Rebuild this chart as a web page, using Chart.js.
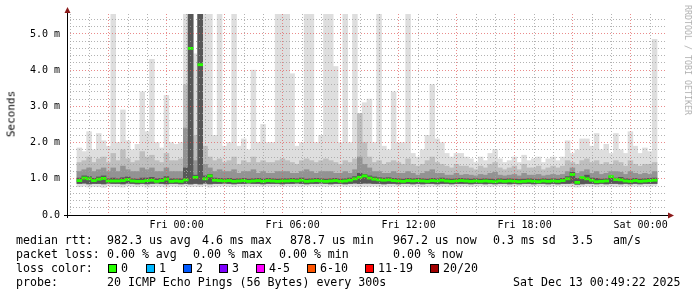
<!DOCTYPE html>
<html>
<head>
<meta charset="utf-8">
<script src="https://cdn.jsdelivr.net/npm/chart.js@4.4.1/dist/chart.umd.min.js"></script>
<style>
body{margin:0;background:#fff;}
#wrap{position:relative;width:697px;height:297px;overflow:hidden;background:#fff;}
#c{position:absolute;left:0;top:0;}
.t{position:absolute;font-family:"DejaVu Sans Mono",monospace;font-size:11.6px;line-height:1;white-space:pre;color:#000;}
.box{position:absolute;width:9px;height:9px;box-sizing:border-box;border:1px solid #000;}
#ylab{position:absolute;left:11px;top:114px;transform:translate(-50%,-50%) rotate(-90deg);font-family:"DejaVu Sans Mono",monospace;font-size:11px;font-weight:normal;color:#000;white-space:pre;}
#wm{position:absolute;left:688px;top:60px;transform:translate(-50%,-50%) rotate(90deg);font-family:"DejaVu Sans Mono",monospace;font-size:8.3px;color:#b0b0b0;white-space:pre;}
</style>
</head>
<body>
<div id="wrap">
<canvas id="c" width="697" height="297"></canvas>
<div id="ylab">Seconds</div>
<div id="wm">RRDTOOL / TOBI OETIKER</div>
<div id="legend"></div>
</div>
<script>
// time axis in hours from Fri 00:00, one bucket = 15 min
const hourStart = -5.15;
const hourEnd = 24.85;
const bucketHours = 0.25;

const tickHours = [0, 6, 12, 18, 24];
const tickNames = ['Fri 00:00', 'Fri 06:00', 'Fri 12:00', 'Fri 18:00', 'Sat 00:00'];
const yTickValues = [0, 1, 2, 3, 4, 5];
const yTickNames = ['0.0', '1.0 m', '2.0 m', '3.0 m', '4.0 m', '5.0 m'];

// rtt in ms
const rttMax = [
 1.85,1.75,2.3,1.8,2.25,2.05,1.9,5.6,2.0,2.9,2.05,1.8,1.95,3.4,2.3,4.3,2.0,1.85,3.3,2.0,
 1.95,2.0,5.6,5.6,4.45,5.6,5.6,5.6,2.2,5.6,1.9,2.0,5.6,1.9,2.1,1.8,4.0,2.0,2.5,2.0,
 2.0,5.6,5.6,5.6,3.9,1.9,2.0,5.6,5.6,2.0,2.2,5.6,5.6,4.1,2.0,5.6,2.0,5.6,2.2,3.1,
 3.2,2.0,5.6,1.9,1.8,3.4,2.0,2.0,5.6,1.7,1.6,1.8,2.2,3.6,2.1,2.0,1.7,1.6,1.7,1.7,
 1.6,1.55,1.45,1.6,1.5,1.7,1.8,1.55,1.45,1.5,1.6,1.45,1.65,1.5,1.55,1.6,1.45,1.55,1.6,1.5,
 1.6,2.05,1.7,1.8,2.1,2.1,1.9,2.25,1.8,1.95,1.7,2.25,1.8,1.7,2.3,1.9,1.7,1.85,1.75,4.85
];
const rttHigh = [
 1.45,1.5,1.6,1.45,1.55,1.6,1.45,1.7,1.5,1.8,1.55,1.45,1.5,1.75,1.6,1.65,1.5,1.45,1.7,1.5,
 1.5,1.55,3.6,5.6,2.2,5.6,1.9,1.6,1.5,1.55,1.45,1.5,1.6,1.4,1.5,1.45,1.6,1.45,1.5,1.45,
 1.45,1.5,1.55,1.5,1.45,1.4,1.5,1.55,1.5,1.45,1.5,1.55,1.5,1.45,1.4,1.5,1.45,1.55,2.8,2.0,
 1.6,1.45,1.5,1.4,1.45,1.5,1.45,1.4,1.55,1.4,1.35,1.4,1.5,1.6,1.45,1.4,1.35,1.3,1.4,1.35,
 1.35,1.3,1.25,1.35,1.3,1.4,1.45,1.3,1.25,1.3,1.35,1.25,1.4,1.3,1.3,1.35,1.25,1.3,1.35,1.3,
 1.35,1.5,1.45,1.4,1.5,1.55,1.45,1.5,1.4,1.45,1.4,1.5,1.45,1.35,1.5,1.4,1.35,1.4,1.4,1.45
];
const rttMid = [
 1.2,1.25,1.3,1.2,1.25,1.3,1.2,1.3,1.2,1.35,1.25,1.2,1.2,1.3,1.25,1.3,1.2,1.2,1.3,1.2,
 1.2,1.2,2.4,5.6,1.5,5.6,1.4,1.3,1.2,1.25,1.2,1.2,1.25,1.15,1.2,1.2,1.25,1.15,1.2,1.15,
 1.15,1.2,1.2,1.2,1.15,1.15,1.2,1.25,1.2,1.15,1.2,1.2,1.2,1.15,1.15,1.2,1.15,1.25,1.6,1.4,
 1.3,1.2,1.2,1.15,1.15,1.2,1.15,1.15,1.2,1.15,1.1,1.15,1.2,1.25,1.15,1.15,1.1,1.1,1.15,1.1,
 1.12,1.1,1.08,1.12,1.1,1.15,1.18,1.1,1.08,1.1,1.12,1.08,1.15,1.1,1.1,1.12,1.08,1.1,1.12,1.1,
 1.12,1.2,1.3,1.15,1.2,1.25,1.15,1.2,1.12,1.15,1.2,1.2,1.18,1.12,1.2,1.15,1.12,1.15,1.12,1.2
];
const rttCore = [
 1.02,1.08,1.06,1.01,1.05,1.08,1.0,1.02,1.0,1.03,1.05,1.0,0.99,1.02,1.02,1.04,1.0,1.01,1.06,1.0,
 1.0,1.0,1.3,5.6,1.1,5.6,1.08,1.12,1.02,1.01,1.0,1.01,0.99,1.0,1.01,0.99,1.0,1.01,0.99,1.01,
 1.0,0.99,1.0,1.0,1.01,1.0,1.02,0.99,1.0,1.01,1.0,0.99,1.0,1.01,0.99,1.0,1.02,1.06,1.15,1.12,
 1.08,1.05,1.03,1.02,1.03,1.01,1.0,0.99,1.01,1.0,1.01,1.0,0.99,1.01,1.0,1.02,1.0,0.99,1.0,1.01,
 1.0,0.99,1.0,0.99,1.0,0.99,0.98,1.0,0.99,1.0,0.99,0.98,0.99,1.0,0.99,0.98,1.0,0.99,1.0,0.99,
 1.01,1.06,1.18,1.01,1.0,1.1,1.02,1.01,0.99,1.0,1.06,1.02,1.04,1.0,0.99,1.01,0.99,1.0,1.01,1.02
];
const rttLow = [
 0.87,0.88,0.86,0.87,0.87,0.86,0.88,0.87,0.87,0.86,0.88,0.87,0.86,0.87,0.86,0.87,0.88,0.87,0.86,0.87,
 0.87,0.86,0.87,0.86,0.87,0.86,0.88,0.86,0.87,0.87,0.88,0.87,0.86,0.87,0.87,0.88,0.87,0.87,0.86,0.87,
 0.87,0.87,0.86,0.87,0.87,0.88,0.87,0.86,0.87,0.87,0.88,0.87,0.86,0.87,0.87,0.86,0.87,0.88,0.87,0.88,
 0.88,0.87,0.87,0.86,0.87,0.87,0.86,0.87,0.87,0.86,0.87,0.86,0.87,0.87,0.86,0.87,0.87,0.86,0.87,0.87,
 0.87,0.86,0.87,0.87,0.86,0.87,0.86,0.87,0.87,0.86,0.87,0.86,0.87,0.87,0.86,0.87,0.87,0.86,0.87,0.86,
 0.87,0.87,0.88,0.85,0.86,0.87,0.87,0.86,0.87,0.86,0.87,0.87,0.86,0.87,0.86,0.87,0.86,0.87,0.87,0.87
];
const rttMin = [
 0.78,0.80,0.77,0.79,0.78,0.76,0.80,0.79,0.78,0.77,0.80,0.79,0.78,0.80,0.77,0.78,0.80,0.79,0.77,0.80,
 0.79,0.78,0.80,0.78,0.79,0.78,0.80,0.77,0.79,0.80,0.80,0.79,0.78,0.80,0.79,0.80,0.79,0.80,0.79,0.80,
 0.79,0.80,0.79,0.80,0.79,0.80,0.79,0.80,0.80,0.79,0.80,0.79,0.80,0.79,0.80,0.79,0.80,0.79,0.78,0.79,
 0.79,0.80,0.79,0.80,0.79,0.80,0.79,0.80,0.79,0.80,0.79,0.78,0.79,0.80,0.79,0.80,0.79,0.80,0.79,0.80,
 0.80,0.79,0.80,0.81,0.80,0.79,0.80,0.81,0.80,0.79,0.80,0.81,0.80,0.79,0.80,0.81,0.80,0.79,0.80,0.81,
 0.80,0.79,0.78,0.77,0.79,0.80,0.79,0.78,0.79,0.80,0.79,0.78,0.79,0.80,0.79,0.80,0.79,0.80,0.79,0.80
];
const median = [
 0.95,1.02,1.0,0.95,0.99,1.01,0.94,0.94,0.94,0.95,0.98,0.94,0.93,0.93,0.95,0.96,0.93,0.95,0.99,0.93,
 0.94,0.93,0.97,4.6,1.04,4.15,1.0,1.08,0.96,0.95,0.94,0.95,0.93,0.94,0.95,0.93,0.94,0.95,0.93,0.95,
 0.94,0.93,0.94,0.94,0.95,0.94,0.96,0.93,0.94,0.95,0.94,0.93,0.94,0.95,0.93,0.94,0.96,1.0,1.04,1.08,
 1.02,0.99,0.97,0.96,0.97,0.95,0.94,0.93,0.95,0.94,0.95,0.94,0.93,0.95,0.94,0.96,0.94,0.93,0.94,0.95,
 0.94,0.93,0.94,0.93,0.94,0.93,0.92,0.94,0.93,0.94,0.93,0.92,0.93,0.94,0.93,0.92,0.94,0.93,0.94,0.93,
 0.95,1.0,1.12,0.9,1.03,1.0,0.96,0.92,0.93,0.94,1.06,0.98,0.97,0.94,0.93,0.95,0.93,0.94,0.95,0.96
];

const lossNames = ['0', '1', '2', '3', '4-5', '6-10', '11-19', '20/20'];
const lossColors = ['#26ff00', '#00b8ff', '#0059ff', '#7e00ff', '#ff00ff', '#ff5500', '#ff0000', '#a10000'];

const legendRows = [
 [[16, 'median rtt:'], [107, '982.3 us avg'], [202, '4.6 ms max'], [290, '878.7 us min'], [393, '967.2 us now'], [493, '0.3 ms sd'], [572, '3.5'], [613, 'am/s']],
 [[16, 'packet loss:'], [107, '0.00 % avg'], [193, '0.00 % max'], [279, '0.00 % min'], [393, '0.00 % now']],
 [[16, 'loss color:']],
 [[16, 'probe:'], [107, '20 ICMP Echo Pings (56 Bytes) every 300s'], [513, 'Sat Dec 13 00:49:22 2025']]
];
const rowTops = [234.7, 249.2, 262.9, 276.9];
const boxLeft = [108, 146, 183, 219, 256, 307, 365, 430];

function band(lo, hi){
    return lo.map(function(v, i){
        return {x: hourStart + bucketHours/2 + i*bucketHours, y: [v, hi[i]]};
    });
}

function medianBand(){
    return median.map(function(v, i){
        return {x: hourStart + bucketHours/2 + i*bucketHours, y: [v - 0.03, v + 0.03]};
    });
}

function buildLegend(){
    let el = document.getElementById('legend');
    let html = '';
    legendRows.forEach(function(row, r){
        row.forEach(function(s){
            html += '<div class="t" style="left:' + s[0] + 'px;top:' + rowTops[r] + 'px">' + s[1] + '</div>';
        });
    });
    lossNames.forEach(function(n, i){
        html += '<div class="box" style="left:' + boxLeft[i] + 'px;top:264px;background:' + lossColors[i] + '"></div>';
        html += '<div class="t" style="left:' + (boxLeft[i] + 13) + 'px;top:' + rowTops[2] + 'px">' + n + '</div>';
    });
    el.innerHTML = html;
}

const arrows = {
    id: 'arrows',
    afterDraw(chart){
        let a = chart.chartArea, ctx = chart.ctx;
        ctx.save();
        ctx.strokeStyle = '#000';
        ctx.lineWidth = 1;
        ctx.beginPath();
        ctx.moveTo(a.left + 0.5, a.bottom + 3);
        ctx.lineTo(a.left + 0.5, a.top - 4);
        ctx.moveTo(a.left - 3, a.bottom + 0.5);
        ctx.lineTo(a.right + 3, a.bottom + 0.5);
        ctx.stroke();
        ctx.fillStyle = '#8b1a1a';
        ctx.beginPath();
        ctx.moveTo(a.left + 0.5, a.top - 7);
        ctx.lineTo(a.left - 2.5, a.top - 1);
        ctx.lineTo(a.left + 3.5, a.top - 1);
        ctx.closePath();
        ctx.fill();
        ctx.beginPath();
        ctx.moveTo(a.right + 7, a.bottom + 0.5);
        ctx.lineTo(a.right + 1, a.bottom - 2.5);
        ctx.lineTo(a.right + 1, a.bottom + 3.5);
        ctx.closePath();
        ctx.fill();
        ctx.restore();
    }
};

function gridColor(major){
    return major ? 'rgba(225,90,90,0.7)' : 'rgba(160,160,160,0.8)';
}

window.onload = function(){

    buildLegend();

    let layer = function(data, color, order){
        return {type: 'bar', data: data, backgroundColor: color, borderWidth: 0,
            barPercentage: 1, categoryPercentage: 1, grouped: false, order: order};
    };

    new Chart(document.getElementById('c'), {
        type: 'bar',
        data: {
            datasets: [
                layer(medianBand(), lossColors[0], 1),
                layer(band(rttLow, rttCore), '#575757', 2),
                layer(band(rttLow, rttMid), '#939393', 3),
                layer(band(rttLow, rttHigh), '#bebebe', 4),
                layer(band(rttMin, rttMax), '#dedede', 5)
            ]
        },
        options: {
            responsive: false,
            animation: false,
            events: [],
            layout: {padding: {left: 0, right: 30, top: 14, bottom: 0}},
            plugins: {legend: {display: false}, tooltip: {enabled: false}},
            scales: {
                x: {
                    type: 'linear',
                    min: hourStart,
                    max: hourEnd,
                    afterFit: function(s){ s.height = 82; },
                    afterBuildTicks: function(s){
                        let t = [];
                        for (let h = Math.ceil(hourStart); h <= Math.floor(hourEnd); h++) t.push({value: h});
                        s.ticks = t;
                    },
                    grid: {
                        z: 1,
                        drawTicks: false,
                        color: function(c){ return gridColor(c.tick && c.tick.value % 3 === 0); }
                    },
                    border: {display: false, dash: [1, 2]},
                    ticks: {
                        autoSkip: false,
                        maxRotation: 0,
                        padding: 4,
                        color: '#000',
                        font: {family: 'DejaVu Sans Mono', size: 10},
                        callback: function(v){
                            let i = tickHours.indexOf(v);
                            return i >= 0 ? tickNames[i] : '';
                        }
                    }
                },
                y: {
                    type: 'linear',
                    min: 0,
                    max: 5.55,
                    afterFit: function(s){ s.width = 67; },
                    afterBuildTicks: function(s){
                        let t = [];
                        for (let k = 0; k * 0.2 <= 5.55; k++) t.push({value: Math.round(k * 2) / 10});
                        s.ticks = t;
                    },
                    grid: {
                        z: 1,
                        drawTicks: false,
                        color: function(c){
                            if (!c.tick || c.tick.value === 0) return 'rgba(0,0,0,0)';
                            return gridColor(Number.isInteger(c.tick.value));
                        }
                    },
                    border: {display: false, dash: [1, 2]},
                    ticks: {
                        autoSkip: false,
                        padding: 7,
                        color: '#000',
                        font: {family: 'DejaVu Sans Mono', size: 10},
                        callback: function(v){
                            let i = yTickValues.indexOf(v);
                            return i >= 0 ? yTickNames[i] : '';
                        }
                    }
                }
            }
        },
        plugins: [arrows]
    });
}
</script>
</body>
</html>
